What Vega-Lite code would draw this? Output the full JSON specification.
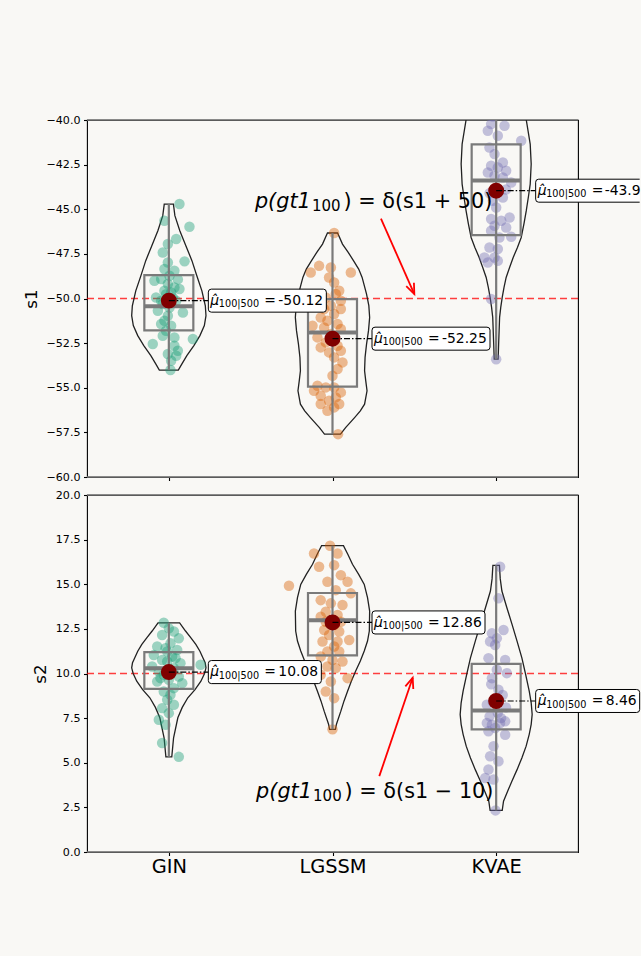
{
"$schema": "https://vega.github.io/schema/vega-lite/v6.json",
"background": "#f9f8f5",
"padding": {"left": 22, "top": 113, "right": 1, "bottom": 83},
"spacing": 5,
"config": {
 "view": {"stroke": "black", "strokeWidth": 1.1},
 "axis": {"grid": false, "domain": false, "labelFont": "DejaVu Sans", "titleFont": "DejaVu Sans", "labelColor": "black", "titleColor": "black", "tickColor": "black", "tickWidth": 1.1, "tickSize": 3.5, "labelPadding": 3.5, "titleFontWeight": "normal"},
 "text": {"font": "DejaVu Sans", "color": "black"}
},
"datasets": {
 "annot": [
  {"p": "s1", "ref": -50, "top": -40, "bot": -60, "tx": 0.526, "ty": -44.93, "eq": ") = δ(s1 + 50)", "ax": 1.296, "ay": -45.53, "hx": 1.5, "hy": -49.75},
  {"p": "s2", "ref": 10, "top": 20, "bot": 0, "tx": 0.533, "ty": 3.03, "eq": ") = δ(s1 − 10)", "ax": 1.286, "ay": 4.25, "hx": 1.49, "hy": 9.76}
 ],
 "stats": [
  {"p": "s1", "m": "GIN", "idx": 0, "q1": -51.79, "med": -50.44, "q3": -48.69, "mn": -54.01, "mx": -44.71, "mean": -50.12, "label": "-50.12"},
  {"p": "s1", "m": "LGSSM", "idx": 1, "q1": -54.94, "med": -51.90, "q3": -50.03, "mn": -57.60, "mx": -46.33, "mean": -52.25, "label": "-52.25"},
  {"p": "s1", "m": "KVAE", "idx": 2, "q1": -46.45, "med": -43.39, "q3": -41.37, "mn": -53.40, "mx": -38.58, "mean": -43.96, "label": "-43.96"},
  {"p": "s2", "m": "GIN", "idx": 0, "q1": 9.14, "med": 10.30, "q3": 11.20, "mn": 5.33, "mx": 12.84, "mean": 10.08, "label": "10.08"},
  {"p": "s2", "m": "LGSSM", "idx": 1, "q1": 11.01, "med": 12.98, "q3": 14.51, "mn": 6.87, "mx": 17.16, "mean": 12.86, "label": "12.86"},
  {"p": "s2", "m": "KVAE", "idx": 2, "q1": 6.87, "med": 7.93, "q3": 10.54, "mn": 2.33, "mx": 16.06, "mean": 8.46, "label": "8.46"}
 ],
 "violin": [
  {"p":"s1","m":"GIN","y":-54.01,"lo":-0.058,"hi":0.058},{"p":"s1","m":"GIN","y":-53.66,"lo":-0.080,"hi":0.080},{"p":"s1","m":"GIN","y":-53.20,"lo":-0.110,"hi":0.110},{"p":"s1","m":"GIN","y":-52.64,"lo":-0.153,"hi":0.153},{"p":"s1","m":"GIN","y":-52.08,"lo":-0.190,"hi":0.190},{"p":"s1","m":"GIN","y":-51.52,"lo":-0.217,"hi":0.217},{"p":"s1","m":"GIN","y":-50.96,"lo":-0.227,"hi":0.227},{"p":"s1","m":"GIN","y":-50.41,"lo":-0.223,"hi":0.223},{"p":"s1","m":"GIN","y":-49.57,"lo":-0.202,"hi":0.202},{"p":"s1","m":"GIN","y":-48.73,"lo":-0.171,"hi":0.171},{"p":"s1","m":"GIN","y":-47.88,"lo":-0.141,"hi":0.141},{"p":"s1","m":"GIN","y":-47.04,"lo":-0.104,"hi":0.104},{"p":"s1","m":"GIN","y":-46.20,"lo":-0.067,"hi":0.067},{"p":"s1","m":"GIN","y":-45.36,"lo":-0.037,"hi":0.037},{"p":"s1","m":"GIN","y":-44.71,"lo":-0.028,"hi":0.028},
  {"p":"s1","m":"LGSSM","y":-57.60,"lo":0.951,"hi":1.049},{"p":"s1","m":"LGSSM","y":-57.23,"lo":0.920,"hi":1.080},{"p":"s1","m":"LGSSM","y":-56.67,"lo":0.865,"hi":1.135},{"p":"s1","m":"LGSSM","y":-56.30,"lo":0.830,"hi":1.170},{"p":"s1","m":"LGSSM","y":-55.92,"lo":0.804,"hi":1.196},{"p":"s1","m":"LGSSM","y":-55.17,"lo":0.789,"hi":1.211},{"p":"s1","m":"LGSSM","y":-54.60,"lo":0.797,"hi":1.203},{"p":"s1","m":"LGSSM","y":-54.05,"lo":0.804,"hi":1.196},{"p":"s1","m":"LGSSM","y":-53.30,"lo":0.801,"hi":1.199},{"p":"s1","m":"LGSSM","y":-52.56,"lo":0.792,"hi":1.208},{"p":"s1","m":"LGSSM","y":-51.80,"lo":0.780,"hi":1.220},{"p":"s1","m":"LGSSM","y":-51.06,"lo":0.773,"hi":1.227},{"p":"s1","m":"LGSSM","y":-50.40,"lo":0.778,"hi":1.222},{"p":"s1","m":"LGSSM","y":-49.75,"lo":0.792,"hi":1.208},{"p":"s1","m":"LGSSM","y":-48.82,"lo":0.819,"hi":1.181},{"p":"s1","m":"LGSSM","y":-48.35,"lo":0.840,"hi":1.160},{"p":"s1","m":"LGSSM","y":-47.89,"lo":0.871,"hi":1.129},{"p":"s1","m":"LGSSM","y":-47.40,"lo":0.905,"hi":1.095},{"p":"s1","m":"LGSSM","y":-46.95,"lo":0.939,"hi":1.061},{"p":"s1","m":"LGSSM","y":-46.33,"lo":0.969,"hi":1.031},
  {"p":"s1","m":"KVAE","y":-53.40,"lo":1.988,"hi":2.012},{"p":"s1","m":"KVAE","y":-52.56,"lo":1.985,"hi":2.015},{"p":"s1","m":"KVAE","y":-51.06,"lo":1.979,"hi":2.021},{"p":"s1","m":"KVAE","y":-50.50,"lo":1.972,"hi":2.028},{"p":"s1","m":"KVAE","y":-49.94,"lo":1.963,"hi":2.037},{"p":"s1","m":"KVAE","y":-49.38,"lo":1.952,"hi":2.048},{"p":"s1","m":"KVAE","y":-48.82,"lo":1.939,"hi":2.061},{"p":"s1","m":"KVAE","y":-48.26,"lo":1.918,"hi":2.082},{"p":"s1","m":"KVAE","y":-47.70,"lo":1.896,"hi":2.104},{"p":"s1","m":"KVAE","y":-47.14,"lo":1.870,"hi":2.130},{"p":"s1","m":"KVAE","y":-46.58,"lo":1.847,"hi":2.153},{"p":"s1","m":"KVAE","y":-45.80,"lo":1.830,"hi":2.170},{"p":"s1","m":"KVAE","y":-45.08,"lo":1.816,"hi":2.184},{"p":"s1","m":"KVAE","y":-44.30,"lo":1.803,"hi":2.197},{"p":"s1","m":"KVAE","y":-43.59,"lo":1.792,"hi":2.208},{"p":"s1","m":"KVAE","y":-42.47,"lo":1.786,"hi":2.214},{"p":"s1","m":"KVAE","y":-41.35,"lo":1.792,"hi":2.208},{"p":"s1","m":"KVAE","y":-40.00,"lo":1.816,"hi":2.184},{"p":"s1","m":"KVAE","y":-39.46,"lo":1.835,"hi":2.165},{"p":"s1","m":"KVAE","y":-38.92,"lo":1.878,"hi":2.122},{"p":"s1","m":"KVAE","y":-38.58,"lo":1.951,"hi":2.049},
  {"p":"s2","m":"GIN","y":5.33,"lo":-0.018,"hi":0.018},{"p":"s2","m":"GIN","y":6.40,"lo":-0.029,"hi":0.029},{"p":"s2","m":"GIN","y":7.52,"lo":-0.055,"hi":0.055},{"p":"s2","m":"GIN","y":8.10,"lo":-0.082,"hi":0.082},{"p":"s2","m":"GIN","y":8.64,"lo":-0.116,"hi":0.116},{"p":"s2","m":"GIN","y":9.10,"lo":-0.160,"hi":0.160},{"p":"s2","m":"GIN","y":9.57,"lo":-0.196,"hi":0.196},{"p":"s2","m":"GIN","y":10.00,"lo":-0.218,"hi":0.218},{"p":"s2","m":"GIN","y":10.32,"lo":-0.227,"hi":0.227},{"p":"s2","m":"GIN","y":10.60,"lo":-0.222,"hi":0.222},{"p":"s2","m":"GIN","y":10.88,"lo":-0.208,"hi":0.208},{"p":"s2","m":"GIN","y":11.25,"lo":-0.190,"hi":0.190},{"p":"s2","m":"GIN","y":11.63,"lo":-0.165,"hi":0.165},{"p":"s2","m":"GIN","y":12.00,"lo":-0.135,"hi":0.135},{"p":"s2","m":"GIN","y":12.38,"lo":-0.102,"hi":0.102},{"p":"s2","m":"GIN","y":12.84,"lo":-0.066,"hi":0.066},
  {"p":"s2","m":"LGSSM","y":6.87,"lo":0.982,"hi":1.018},{"p":"s2","m":"LGSSM","y":7.16,"lo":0.976,"hi":1.024},{"p":"s2","m":"LGSSM","y":7.89,"lo":0.949,"hi":1.051},{"p":"s2","m":"LGSSM","y":8.45,"lo":0.930,"hi":1.070},{"p":"s2","m":"LGSSM","y":9.01,"lo":0.908,"hi":1.092},{"p":"s2","m":"LGSSM","y":9.57,"lo":0.885,"hi":1.115},{"p":"s2","m":"LGSSM","y":10.13,"lo":0.859,"hi":1.141},{"p":"s2","m":"LGSSM","y":10.70,"lo":0.830,"hi":1.170},{"p":"s2","m":"LGSSM","y":11.26,"lo":0.806,"hi":1.194},{"p":"s2","m":"LGSSM","y":11.82,"lo":0.786,"hi":1.214},{"p":"s2","m":"LGSSM","y":12.38,"lo":0.775,"hi":1.225},{"p":"s2","m":"LGSSM","y":13.50,"lo":0.773,"hi":1.227},{"p":"s2","m":"LGSSM","y":14.25,"lo":0.786,"hi":1.214},{"p":"s2","m":"LGSSM","y":14.99,"lo":0.806,"hi":1.194},{"p":"s2","m":"LGSSM","y":15.55,"lo":0.840,"hi":1.160},{"p":"s2","m":"LGSSM","y":16.12,"lo":0.878,"hi":1.122},{"p":"s2","m":"LGSSM","y":16.65,"lo":0.905,"hi":1.095},{"p":"s2","m":"LGSSM","y":17.16,"lo":0.933,"hi":1.067},
  {"p":"s2","m":"KVAE","y":2.33,"lo":1.963,"hi":2.037},{"p":"s2","m":"KVAE","y":2.85,"lo":1.955,"hi":2.045},{"p":"s2","m":"KVAE","y":3.40,"lo":1.930,"hi":2.070},{"p":"s2","m":"KVAE","y":3.97,"lo":1.904,"hi":2.096},{"p":"s2","m":"KVAE","y":4.60,"lo":1.873,"hi":2.127},{"p":"s2","m":"KVAE","y":5.27,"lo":1.843,"hi":2.157},{"p":"s2","m":"KVAE","y":5.93,"lo":1.817,"hi":2.183},{"p":"s2","m":"KVAE","y":6.59,"lo":1.798,"hi":2.202},{"p":"s2","m":"KVAE","y":7.15,"lo":1.786,"hi":2.214},{"p":"s2","m":"KVAE","y":7.71,"lo":1.780,"hi":2.220},{"p":"s2","m":"KVAE","y":8.36,"lo":1.786,"hi":2.214},{"p":"s2","m":"KVAE","y":9.01,"lo":1.798,"hi":2.202},{"p":"s2","m":"KVAE","y":9.95,"lo":1.820,"hi":2.180},{"p":"s2","m":"KVAE","y":10.88,"lo":1.843,"hi":2.157},{"p":"s2","m":"KVAE","y":11.80,"lo":1.872,"hi":2.128},{"p":"s2","m":"KVAE","y":12.75,"lo":1.903,"hi":2.097},{"p":"s2","m":"KVAE","y":13.70,"lo":1.935,"hi":2.065},{"p":"s2","m":"KVAE","y":14.62,"lo":1.965,"hi":2.035},{"p":"s2","m":"KVAE","y":15.30,"lo":1.975,"hi":2.025},{"p":"s2","m":"KVAE","y":16.06,"lo":1.980,"hi":2.020}
 ],
 "pts": [
  {"p":"s1","m":"GIN","x":0.065,"y":-44.71},{"p":"s1","m":"GIN","x":-0.027,"y":-45.64},{"p":"s1","m":"GIN","x":0.126,"y":-45.98},{"p":"s1","m":"GIN","x":0.045,"y":-46.67},{"p":"s1","m":"GIN","x":-0.006,"y":-46.95},{"p":"s1","m":"GIN","x":-0.037,"y":-47.42},{"p":"s1","m":"GIN","x":0.096,"y":-47.92},{"p":"s1","m":"GIN","x":-0.006,"y":-47.98},{"p":"s1","m":"GIN","x":-0.027,"y":-48.35},{"p":"s1","m":"GIN","x":0.034,"y":-48.45},{"p":"s1","m":"GIN","x":0.004,"y":-48.73},{"p":"s1","m":"GIN","x":-0.047,"y":-48.91},{"p":"s1","m":"GIN","x":0.055,"y":-48.93},{"p":"s1","m":"GIN","x":-0.088,"y":-49.01},{"p":"s1","m":"GIN","x":-0.006,"y":-49.19},{"p":"s1","m":"GIN","x":0.034,"y":-49.38},{"p":"s1","m":"GIN","x":0.065,"y":-49.47},{"p":"s1","m":"GIN","x":-0.027,"y":-49.57},{"p":"s1","m":"GIN","x":0.014,"y":-49.66},{"p":"s1","m":"GIN","x":-0.078,"y":-49.94},{"p":"s1","m":"GIN","x":0.045,"y":-50.13},{"p":"s1","m":"GIN","x":-0.037,"y":-50.31},{"p":"s1","m":"GIN","x":0.086,"y":-50.78},{"p":"s1","m":"GIN","x":0.004,"y":-50.50},{"p":"s1","m":"GIN","x":-0.067,"y":-50.69},{"p":"s1","m":"GIN","x":-0.006,"y":-50.97},{"p":"s1","m":"GIN","x":-0.027,"y":-51.25},{"p":"s1","m":"GIN","x":-0.047,"y":-51.43},{"p":"s1","m":"GIN","x":0.014,"y":-51.53},{"p":"s1","m":"GIN","x":-0.017,"y":-51.81},{"p":"s1","m":"GIN","x":-0.037,"y":-52.09},{"p":"s1","m":"GIN","x":0.034,"y":-52.18},{"p":"s1","m":"GIN","x":0.147,"y":-52.27},{"p":"s1","m":"GIN","x":-0.098,"y":-52.55},{"p":"s1","m":"GIN","x":0.034,"y":-52.65},{"p":"s1","m":"GIN","x":0.055,"y":-52.93},{"p":"s1","m":"GIN","x":-0.006,"y":-53.11},{"p":"s1","m":"GIN","x":0.045,"y":-53.21},{"p":"s1","m":"GIN","x":0.014,"y":-53.49},{"p":"s1","m":"GIN","x":0.010,"y":-54.01},{"p":"s1","m":"GIN","x":-0.047,"y":-50.13},{"p":"s1","m":"GIN","x":0.024,"y":-49.94},{"p":"s1","m":"GIN","x":-0.017,"y":-49.76},
  {"p":"s1","m":"LGSSM","x":1.010,"y":-46.33},{"p":"s1","m":"LGSSM","x":0.918,"y":-48.17},{"p":"s1","m":"LGSSM","x":0.990,"y":-48.26},{"p":"s1","m":"LGSSM","x":1.112,"y":-48.54},{"p":"s1","m":"LGSSM","x":0.867,"y":-48.54},{"p":"s1","m":"LGSSM","x":0.979,"y":-48.82},{"p":"s1","m":"LGSSM","x":1.010,"y":-49.10},{"p":"s1","m":"LGSSM","x":1.041,"y":-49.57},{"p":"s1","m":"LGSSM","x":1.020,"y":-49.75},{"p":"s1","m":"LGSSM","x":0.959,"y":-49.94},{"p":"s1","m":"LGSSM","x":1.051,"y":-50.13},{"p":"s1","m":"LGSSM","x":0.990,"y":-50.41},{"p":"s1","m":"LGSSM","x":1.051,"y":-50.59},{"p":"s1","m":"LGSSM","x":0.949,"y":-50.59},{"p":"s1","m":"LGSSM","x":1.010,"y":-50.87},{"p":"s1","m":"LGSSM","x":0.928,"y":-51.06},{"p":"s1","m":"LGSSM","x":0.969,"y":-51.25},{"p":"s1","m":"LGSSM","x":1.031,"y":-51.43},{"p":"s1","m":"LGSSM","x":0.878,"y":-51.53},{"p":"s1","m":"LGSSM","x":0.949,"y":-51.62},{"p":"s1","m":"LGSSM","x":1.051,"y":-51.71},{"p":"s1","m":"LGSSM","x":0.990,"y":-51.99},{"p":"s1","m":"LGSSM","x":0.908,"y":-52.18},{"p":"s1","m":"LGSSM","x":1.010,"y":-52.18},{"p":"s1","m":"LGSSM","x":0.959,"y":-52.46},{"p":"s1","m":"LGSSM","x":1.031,"y":-52.65},{"p":"s1","m":"LGSSM","x":0.928,"y":-52.74},{"p":"s1","m":"LGSSM","x":1.051,"y":-52.93},{"p":"s1","m":"LGSSM","x":0.979,"y":-53.02},{"p":"s1","m":"LGSSM","x":1.010,"y":-53.30},{"p":"s1","m":"LGSSM","x":1.061,"y":-53.58},{"p":"s1","m":"LGSSM","x":1.031,"y":-53.95},{"p":"s1","m":"LGSSM","x":1.000,"y":-54.33},{"p":"s1","m":"LGSSM","x":0.908,"y":-54.89},{"p":"s1","m":"LGSSM","x":0.959,"y":-54.98},{"p":"s1","m":"LGSSM","x":1.010,"y":-54.98},{"p":"s1","m":"LGSSM","x":0.887,"y":-55.17},{"p":"s1","m":"LGSSM","x":1.051,"y":-55.26},{"p":"s1","m":"LGSSM","x":0.928,"y":-55.45},{"p":"s1","m":"LGSSM","x":1.020,"y":-55.54},{"p":"s1","m":"LGSSM","x":0.979,"y":-55.73},{"p":"s1","m":"LGSSM","x":1.041,"y":-55.91},{"p":"s1","m":"LGSSM","x":0.928,"y":-55.91},{"p":"s1","m":"LGSSM","x":1.010,"y":-56.10},{"p":"s1","m":"LGSSM","x":0.969,"y":-56.29},{"p":"s1","m":"LGSSM","x":1.034,"y":-57.60},
  {"p":"s1","m":"KVAE","x":1.969,"y":-40.23},{"p":"s1","m":"KVAE","x":2.051,"y":-40.32},{"p":"s1","m":"KVAE","x":1.949,"y":-40.60},{"p":"s1","m":"KVAE","x":2.010,"y":-40.88},{"p":"s1","m":"KVAE","x":2.153,"y":-41.16},{"p":"s1","m":"KVAE","x":1.959,"y":-41.54},{"p":"s1","m":"KVAE","x":1.990,"y":-41.91},{"p":"s1","m":"KVAE","x":2.041,"y":-42.38},{"p":"s1","m":"KVAE","x":1.969,"y":-42.56},{"p":"s1","m":"KVAE","x":2.010,"y":-42.66},{"p":"s1","m":"KVAE","x":2.061,"y":-42.84},{"p":"s1","m":"KVAE","x":1.949,"y":-42.94},{"p":"s1","m":"KVAE","x":1.990,"y":-43.12},{"p":"s1","m":"KVAE","x":2.041,"y":-43.22},{"p":"s1","m":"KVAE","x":2.092,"y":-43.50},{"p":"s1","m":"KVAE","x":2.041,"y":-44.34},{"p":"s1","m":"KVAE","x":1.980,"y":-44.52},{"p":"s1","m":"KVAE","x":2.000,"y":-44.90},{"p":"s1","m":"KVAE","x":2.082,"y":-45.46},{"p":"s1","m":"KVAE","x":1.969,"y":-45.55},{"p":"s1","m":"KVAE","x":2.031,"y":-45.64},{"p":"s1","m":"KVAE","x":1.990,"y":-45.92},{"p":"s1","m":"KVAE","x":2.061,"y":-46.02},{"p":"s1","m":"KVAE","x":1.969,"y":-46.20},{"p":"s1","m":"KVAE","x":2.092,"y":-46.54},{"p":"s1","m":"KVAE","x":2.020,"y":-46.58},{"p":"s1","m":"KVAE","x":1.959,"y":-47.14},{"p":"s1","m":"KVAE","x":2.010,"y":-47.23},{"p":"s1","m":"KVAE","x":1.928,"y":-47.70},{"p":"s1","m":"KVAE","x":1.990,"y":-47.70},{"p":"s1","m":"KVAE","x":1.949,"y":-47.98},{"p":"s1","m":"KVAE","x":2.010,"y":-47.89},{"p":"s1","m":"KVAE","x":1.969,"y":-50.03},{"p":"s1","m":"KVAE","x":2.000,"y":-53.40},{"p":"s1","m":"KVAE","x":1.980,"y":-39.80},{"p":"s1","m":"KVAE","x":2.040,"y":-39.50},{"p":"s1","m":"KVAE","x":1.940,"y":-39.20},{"p":"s1","m":"KVAE","x":2.030,"y":-38.90},{"p":"s1","m":"KVAE","x":2.000,"y":-38.58},{"p":"s1","m":"KVAE","x":2.060,"y":-43.90},{"p":"s1","m":"KVAE","x":1.960,"y":-44.10},
  {"p":"s2","m":"GIN","x":-0.031,"y":12.84},{"p":"s2","m":"GIN","x":0.000,"y":12.53},{"p":"s2","m":"GIN","x":0.031,"y":12.35},{"p":"s2","m":"GIN","x":-0.041,"y":12.16},{"p":"s2","m":"GIN","x":0.061,"y":11.97},{"p":"s2","m":"GIN","x":0.010,"y":11.69},{"p":"s2","m":"GIN","x":-0.071,"y":11.51},{"p":"s2","m":"GIN","x":-0.020,"y":11.41},{"p":"s2","m":"GIN","x":0.051,"y":11.32},{"p":"s2","m":"GIN","x":-0.010,"y":11.23},{"p":"s2","m":"GIN","x":-0.092,"y":11.04},{"p":"s2","m":"GIN","x":0.020,"y":10.95},{"p":"s2","m":"GIN","x":0.041,"y":10.86},{"p":"s2","m":"GIN","x":-0.041,"y":10.76},{"p":"s2","m":"GIN","x":-0.010,"y":10.67},{"p":"s2","m":"GIN","x":0.071,"y":10.58},{"p":"s2","m":"GIN","x":0.194,"y":10.49},{"p":"s2","m":"GIN","x":-0.102,"y":10.39},{"p":"s2","m":"GIN","x":0.031,"y":10.30},{"p":"s2","m":"GIN","x":-0.061,"y":10.11},{"p":"s2","m":"GIN","x":-0.031,"y":9.93},{"p":"s2","m":"GIN","x":0.061,"y":9.83},{"p":"s2","m":"GIN","x":-0.051,"y":9.74},{"p":"s2","m":"GIN","x":0.000,"y":9.65},{"p":"s2","m":"GIN","x":-0.071,"y":9.55},{"p":"s2","m":"GIN","x":0.082,"y":9.46},{"p":"s2","m":"GIN","x":0.031,"y":9.18},{"p":"s2","m":"GIN","x":-0.031,"y":8.99},{"p":"s2","m":"GIN","x":0.010,"y":8.81},{"p":"s2","m":"GIN","x":-0.010,"y":8.53},{"p":"s2","m":"GIN","x":0.031,"y":8.25},{"p":"s2","m":"GIN","x":-0.041,"y":8.06},{"p":"s2","m":"GIN","x":0.000,"y":7.78},{"p":"s2","m":"GIN","x":-0.061,"y":7.41},{"p":"s2","m":"GIN","x":-0.020,"y":7.13},{"p":"s2","m":"GIN","x":-0.041,"y":6.11},{"p":"s2","m":"GIN","x":0.061,"y":5.33},
  {"p":"s2","m":"LGSSM","x":0.985,"y":17.16},{"p":"s2","m":"LGSSM","x":0.887,"y":16.72},{"p":"s2","m":"LGSSM","x":1.031,"y":16.72},{"p":"s2","m":"LGSSM","x":0.918,"y":15.98},{"p":"s2","m":"LGSSM","x":1.010,"y":16.07},{"p":"s2","m":"LGSSM","x":0.734,"y":14.92},{"p":"s2","m":"LGSSM","x":1.051,"y":15.51},{"p":"s2","m":"LGSSM","x":0.969,"y":15.14},{"p":"s2","m":"LGSSM","x":1.092,"y":15.14},{"p":"s2","m":"LGSSM","x":1.020,"y":14.67},{"p":"s2","m":"LGSSM","x":1.112,"y":14.49},{"p":"s2","m":"LGSSM","x":0.928,"y":14.11},{"p":"s2","m":"LGSSM","x":0.990,"y":13.93},{"p":"s2","m":"LGSSM","x":1.061,"y":13.84},{"p":"s2","m":"LGSSM","x":0.959,"y":13.46},{"p":"s2","m":"LGSSM","x":1.031,"y":13.28},{"p":"s2","m":"LGSSM","x":0.928,"y":13.18},{"p":"s2","m":"LGSSM","x":1.051,"y":12.90},{"p":"s2","m":"LGSSM","x":0.959,"y":12.90},{"p":"s2","m":"LGSSM","x":1.010,"y":12.72},{"p":"s2","m":"LGSSM","x":0.949,"y":12.44},{"p":"s2","m":"LGSSM","x":1.041,"y":12.35},{"p":"s2","m":"LGSSM","x":0.979,"y":12.16},{"p":"s2","m":"LGSSM","x":1.102,"y":11.88},{"p":"s2","m":"LGSSM","x":0.939,"y":11.79},{"p":"s2","m":"LGSSM","x":1.031,"y":11.79},{"p":"s2","m":"LGSSM","x":1.010,"y":11.51},{"p":"s2","m":"LGSSM","x":0.969,"y":11.23},{"p":"s2","m":"LGSSM","x":1.041,"y":11.23},{"p":"s2","m":"LGSSM","x":0.928,"y":10.95},{"p":"s2","m":"LGSSM","x":1.000,"y":10.76},{"p":"s2","m":"LGSSM","x":1.061,"y":10.67},{"p":"s2","m":"LGSSM","x":0.969,"y":10.39},{"p":"s2","m":"LGSSM","x":1.020,"y":10.30},{"p":"s2","m":"LGSSM","x":0.928,"y":9.93},{"p":"s2","m":"LGSSM","x":1.092,"y":9.74},{"p":"s2","m":"LGSSM","x":0.990,"y":9.55},{"p":"s2","m":"LGSSM","x":0.959,"y":8.99},{"p":"s2","m":"LGSSM","x":1.010,"y":8.62},{"p":"s2","m":"LGSSM","x":1.000,"y":6.87},
  {"p":"s2","m":"KVAE","x":2.024,"y":15.98},{"p":"s2","m":"KVAE","x":2.014,"y":14.21},{"p":"s2","m":"KVAE","x":2.045,"y":12.44},{"p":"s2","m":"KVAE","x":1.974,"y":12.25},{"p":"s2","m":"KVAE","x":2.004,"y":11.97},{"p":"s2","m":"KVAE","x":1.963,"y":11.79},{"p":"s2","m":"KVAE","x":1.994,"y":11.60},{"p":"s2","m":"KVAE","x":1.953,"y":10.86},{"p":"s2","m":"KVAE","x":2.055,"y":10.76},{"p":"s2","m":"KVAE","x":2.004,"y":10.21},{"p":"s2","m":"KVAE","x":2.065,"y":10.02},{"p":"s2","m":"KVAE","x":1.974,"y":9.74},{"p":"s2","m":"KVAE","x":1.970,"y":9.40},{"p":"s2","m":"KVAE","x":2.014,"y":9.09},{"p":"s2","m":"KVAE","x":2.040,"y":8.80},{"p":"s2","m":"KVAE","x":1.980,"y":8.40},{"p":"s2","m":"KVAE","x":1.943,"y":8.25},{"p":"s2","m":"KVAE","x":2.060,"y":8.10},{"p":"s2","m":"KVAE","x":2.010,"y":7.80},{"p":"s2","m":"KVAE","x":1.960,"y":7.60},{"p":"s2","m":"KVAE","x":2.030,"y":7.50},{"p":"s2","m":"KVAE","x":2.055,"y":7.32},{"p":"s2","m":"KVAE","x":1.943,"y":7.23},{"p":"s2","m":"KVAE","x":2.024,"y":7.23},{"p":"s2","m":"KVAE","x":1.974,"y":7.13},{"p":"s2","m":"KVAE","x":1.994,"y":6.95},{"p":"s2","m":"KVAE","x":1.953,"y":6.76},{"p":"s2","m":"KVAE","x":2.055,"y":6.57},{"p":"s2","m":"KVAE","x":1.984,"y":5.92},{"p":"s2","m":"KVAE","x":1.963,"y":5.36},{"p":"s2","m":"KVAE","x":2.014,"y":5.08},{"p":"s2","m":"KVAE","x":1.953,"y":4.62},{"p":"s2","m":"KVAE","x":1.933,"y":4.15},{"p":"s2","m":"KVAE","x":1.984,"y":4.06},{"p":"s2","m":"KVAE","x":1.996,"y":2.33}
 ]
},
"vconcat": [
 {
  "width": 491, "height": 357,
  "layer": [
   {"data": {"name": "annot"}, "transform": [{"filter": "datum.p === 's1'"}],
    "mark": {"type": "rule", "color": "#7a7a7a", "strokeWidth": 1.5},
    "encoding": {"y": {"field": "top", "type": "quantitative", "scale": {"type": "linear", "domain": [-60, -40], "nice": false, "zero": false}}}},
   {"data": {"name": "annot"}, "transform": [{"filter": "datum.p === 's1'"}],
    "mark": {"type": "rule", "color": "#7a7a7a", "strokeWidth": 1.5},
    "encoding": {"y": {"field": "bot", "type": "quantitative", "scale": {"type": "linear", "domain": [-60, -40], "nice": false, "zero": false}}}},
   {"data": {"name": "annot"}, "transform": [{"filter": "datum.p === 's1'"}],
    "mark": {"type": "rule", "color": "red", "opacity": 0.75, "strokeDash": [7, 4], "strokeWidth": 1.5},
    "encoding": {"y": {"field": "ref", "type": "quantitative", "scale": {"type": "linear", "domain": [-60, -40], "nice": false, "zero": false}}}},
   {"data": {"name": "violin"}, "transform": [{"filter": "datum.p === 's1'"}],
    "mark": {"type": "area", "orient": "horizontal", "fillOpacity": 0, "stroke": "#222222", "strokeWidth": 1.3, "clip": true},
    "encoding": {
     "y": {"field": "y", "type": "quantitative", "scale": {"type": "linear", "domain": [-60, -40], "nice": false, "zero": false}},
     "x": {"field": "lo", "type": "quantitative", "scale": {"type": "linear", "domain": [-0.5, 2.5], "nice": false, "zero": false}},
     "x2": {"field": "hi"},
     "detail": {"field": "m", "type": "nominal"}}},
   {"data": {"name": "pts"}, "transform": [{"filter": "datum.p === 's1'"}],
    "mark": {"type": "circle", "size": 110, "opacity": 0.42, "clip": true},
    "encoding": {
     "x": {"field": "x", "type": "quantitative", "scale": {"type": "linear", "domain": [-0.5, 2.5], "nice": false, "zero": false}, "axis": {"title": null, "values": [0, 1, 2], "labels": false}},
     "y": {"field": "y", "type": "quantitative", "scale": {"type": "linear", "domain": [-60, -40], "nice": false, "zero": false}, "axis": {"title": "s1", "titleFontSize": 16.7, "titlePadding": 6, "values": [-60, -57.5, -55, -52.5, -50, -47.5, -45, -42.5, -40], "format": ".1f", "labelFontSize": 11.1}},
     "color": {"field": "m", "type": "nominal", "scale": {"domain": ["GIN", "LGSSM", "KVAE"], "range": ["#1b9e77", "#d95f02", "#7570b3"]}, "legend": null}}},
   {"data": {"name": "stats"}, "transform": [{"filter": "datum.p === 's1'"}],
    "mark": {"type": "rule", "color": "#7a7a7a", "strokeWidth": 2.2, "clip": true},
    "encoding": {
     "x": {"field": "idx", "type": "quantitative", "scale": {"type": "linear", "domain": [-0.5, 2.5], "nice": false, "zero": false}},
     "y": {"field": "mn", "type": "quantitative", "scale": {"type": "linear", "domain": [-60, -40], "nice": false, "zero": false}},
     "y2": {"field": "mx"}}},
   {"data": {"name": "stats"}, "transform": [{"filter": "datum.p === 's1'"}],
    "mark": {"type": "rect", "fillOpacity": 0, "stroke": "#7a7a7a", "strokeWidth": 2.2, "xOffset": -24.5, "x2Offset": 24.5},
    "encoding": {
     "x": {"field": "idx", "type": "quantitative", "scale": {"type": "linear", "domain": [-0.5, 2.5], "nice": false, "zero": false}},
     "x2": {"field": "idx"},
     "y": {"field": "q3", "type": "quantitative", "scale": {"type": "linear", "domain": [-60, -40], "nice": false, "zero": false}},
     "y2": {"field": "q1"}}},
   {"data": {"name": "stats"}, "transform": [{"filter": "datum.p === 's1'"}],
    "mark": {"type": "rule", "color": "#7a7a7a", "strokeWidth": 4, "xOffset": -24.5, "x2Offset": 24.5},
    "encoding": {
     "x": {"field": "idx", "type": "quantitative", "scale": {"type": "linear", "domain": [-0.5, 2.5], "nice": false, "zero": false}},
     "x2": {"field": "idx"},
     "y": {"field": "med", "type": "quantitative", "scale": {"type": "linear", "domain": [-60, -40], "nice": false, "zero": false}}}},
   {"data": {"name": "stats"}, "transform": [{"filter": "datum.p === 's1'"}],
    "mark": {"type": "circle", "size": 254, "color": "#800000", "opacity": 1},
    "encoding": {
     "x": {"field": "idx", "type": "quantitative", "scale": {"type": "linear", "domain": [-0.5, 2.5], "nice": false, "zero": false}},
     "y": {"field": "mean", "type": "quantitative", "scale": {"type": "linear", "domain": [-60, -40], "nice": false, "zero": false}}}},
   {"data": {"name": "stats"}, "transform": [{"filter": "datum.p === 's1'"}],
    "mark": {"type": "rule", "color": "black", "strokeWidth": 1.2, "strokeDash": [6, 2, 1.5, 2], "x2Offset": 39.5},
    "encoding": {
     "x": {"field": "idx", "type": "quantitative", "scale": {"type": "linear", "domain": [-0.5, 2.5], "nice": false, "zero": false}},
     "x2": {"field": "idx"},
     "y": {"field": "mean", "type": "quantitative", "scale": {"type": "linear", "domain": [-60, -40], "nice": false, "zero": false}}}},
   {"data": {"name": "stats"}, "transform": [{"filter": "datum.p === 's1' && datum.m !== 'KVAE'"}],
    "mark": {"type": "point", "shape": "M-0.949,-0.195L0.949,-0.195Q1,-0.195,1,-0.144L1,0.144Q1,0.195,0.949,0.195L-0.949,0.195Q-1,0.195,-1,0.144L-1,-0.144Q-1,-0.195,-0.949,-0.195Z", "size": 13924, "filled": true, "fill": "white", "fillOpacity": 1, "opacity": 1, "stroke": "black", "strokeWidth": 1, "xOffset": 98.5},
    "encoding": {
     "x": {"field": "idx", "type": "quantitative", "scale": {"type": "linear", "domain": [-0.5, 2.5], "nice": false, "zero": false}},
     "y": {"field": "mean", "type": "quantitative", "scale": {"type": "linear", "domain": [-60, -40], "nice": false, "zero": false}}}},
   {"data": {"name": "stats"}, "transform": [{"filter": "datum.p === 's1' && datum.m === 'KVAE'"}],
    "mark": {"type": "point", "shape": "M1,-0.221L-0.942,-0.221Q-1,-0.221,-1,-0.163L-1,0.163Q-1,0.221,-0.942,0.221L1,0.221", "size": 10816, "filled": true, "fill": "white", "fillOpacity": 1, "opacity": 1, "stroke": "black", "strokeWidth": 1, "xOffset": 91.5},
    "encoding": {
     "x": {"field": "idx", "type": "quantitative", "scale": {"type": "linear", "domain": [-0.5, 2.5], "nice": false, "zero": false}},
     "y": {"field": "mean", "type": "quantitative", "scale": {"type": "linear", "domain": [-60, -40], "nice": false, "zero": false}}}},
   {"data": {"name": "stats"}, "transform": [{"filter": "datum.p === 's1'"}],
    "mark": {"type": "text", "text": "\u03bc\u0302", "fontSize": 13.9, "fontStyle": "italic", "align": "left", "baseline": "alphabetic", "dx": 41.5, "dy": 4.3},
    "encoding": {
     "x": {"field": "idx", "type": "quantitative", "scale": {"type": "linear", "domain": [-0.5, 2.5], "nice": false, "zero": false}},
     "y": {"field": "mean", "type": "quantitative", "scale": {"type": "linear", "domain": [-60, -40], "nice": false, "zero": false}}}},
   {"data": {"name": "stats"}, "transform": [{"filter": "datum.p === 's1'"}],
    "mark": {"type": "text", "text": "100|500", "fontSize": 9.7, "align": "left", "baseline": "alphabetic", "dx": 50, "dy": 6.7},
    "encoding": {
     "x": {"field": "idx", "type": "quantitative", "scale": {"type": "linear", "domain": [-0.5, 2.5], "nice": false, "zero": false}},
     "y": {"field": "mean", "type": "quantitative", "scale": {"type": "linear", "domain": [-60, -40], "nice": false, "zero": false}}}},
   {"data": {"name": "stats"}, "transform": [{"filter": "datum.p === 's1'"}],
    "mark": {"type": "text", "text": "=", "fontSize": 13.9, "align": "left", "baseline": "alphabetic", "dx": 95.5, "dy": 4.3},
    "encoding": {
     "x": {"field": "idx", "type": "quantitative", "scale": {"type": "linear", "domain": [-0.5, 2.5], "nice": false, "zero": false}},
     "y": {"field": "mean", "type": "quantitative", "scale": {"type": "linear", "domain": [-60, -40], "nice": false, "zero": false}}}},
   {"data": {"name": "stats"}, "transform": [{"filter": "datum.p === 's1' && datum.m !== 'KVAE'"}],
    "mark": {"type": "text", "fontSize": 13.9, "align": "left", "baseline": "alphabetic", "dx": 109.5, "dy": 4.3},
    "encoding": {
     "text": {"field": "label", "type": "nominal"},
     "x": {"field": "idx", "type": "quantitative", "scale": {"type": "linear", "domain": [-0.5, 2.5], "nice": false, "zero": false}},
     "y": {"field": "mean", "type": "quantitative", "scale": {"type": "linear", "domain": [-60, -40], "nice": false, "zero": false}}}},
   {"data": {"name": "stats"}, "transform": [{"filter": "datum.p === 's1' && datum.m === 'KVAE'"}],
    "mark": {"type": "text", "fontSize": 13.9, "align": "left", "baseline": "alphabetic", "dx": 108.5, "dy": 4.3, "limit": 37, "ellipsis": "\u200b"},
    "encoding": {
     "text": {"field": "label", "type": "nominal"},
     "x": {"field": "idx", "type": "quantitative", "scale": {"type": "linear", "domain": [-0.5, 2.5], "nice": false, "zero": false}},
     "y": {"field": "mean", "type": "quantitative", "scale": {"type": "linear", "domain": [-60, -40], "nice": false, "zero": false}}}},
   {"data": {"name": "annot"}, "transform": [{"filter": "datum.p === 's1'"}],
    "mark": {"type": "text", "text": "p(gt1", "fontSize": 20.8, "fontStyle": "italic", "align": "left", "baseline": "alphabetic"},
    "encoding": {
     "x": {"field": "tx", "type": "quantitative", "scale": {"type": "linear", "domain": [-0.5, 2.5], "nice": false, "zero": false}},
     "y": {"field": "ty", "type": "quantitative", "scale": {"type": "linear", "domain": [-60, -40], "nice": false, "zero": false}}}},
   {"data": {"name": "annot"}, "transform": [{"filter": "datum.p === 's1'"}],
    "mark": {"type": "text", "text": "100", "fontSize": 15, "align": "left", "baseline": "alphabetic", "dx": 57, "dy": 3},
    "encoding": {
     "x": {"field": "tx", "type": "quantitative", "scale": {"type": "linear", "domain": [-0.5, 2.5], "nice": false, "zero": false}},
     "y": {"field": "ty", "type": "quantitative", "scale": {"type": "linear", "domain": [-60, -40], "nice": false, "zero": false}}}},
   {"data": {"name": "annot"}, "transform": [{"filter": "datum.p === 's1'"}],
    "mark": {"type": "text", "fontSize": 20.8, "align": "left", "baseline": "alphabetic", "dx": 88.5},
    "encoding": {
     "text": {"field": "eq", "type": "nominal"},
     "x": {"field": "tx", "type": "quantitative", "scale": {"type": "linear", "domain": [-0.5, 2.5], "nice": false, "zero": false}},
     "y": {"field": "ty", "type": "quantitative", "scale": {"type": "linear", "domain": [-60, -40], "nice": false, "zero": false}}}},
   {"data": {"name": "annot"}, "transform": [{"filter": "datum.p === 's1'"}],
    "mark": {"type": "rule", "color": "red", "strokeWidth": 1.8},
    "encoding": {
     "x": {"field": "ax", "type": "quantitative", "scale": {"type": "linear", "domain": [-0.5, 2.5], "nice": false, "zero": false}},
     "x2": {"field": "hx"},
     "y": {"field": "ay", "type": "quantitative", "scale": {"type": "linear", "domain": [-60, -40], "nice": false, "zero": false}},
     "y2": {"field": "hy"}}},
   {"data": {"name": "annot"}, "transform": [{"filter": "datum.p === 's1'"}],
    "mark": {"type": "point", "shape": "M-0.4,-1L0,0L0.4,-1", "size": 441, "filled": false, "stroke": "red", "strokeWidth": 1.8, "opacity": 1, "angle": 336.1},
    "encoding": {
     "x": {"field": "hx", "type": "quantitative", "scale": {"type": "linear", "domain": [-0.5, 2.5], "nice": false, "zero": false}},
     "y": {"field": "hy", "type": "quantitative", "scale": {"type": "linear", "domain": [-60, -40], "nice": false, "zero": false}}}}
  ]
 },
 {
  "width": 491, "height": 357,
  "layer": [
   {"data": {"name": "annot"}, "transform": [{"filter": "datum.p === 's2'"}],
    "mark": {"type": "rule", "color": "#7a7a7a", "strokeWidth": 1.5},
    "encoding": {"y": {"field": "top", "type": "quantitative", "scale": {"type": "linear", "domain": [0, 20], "nice": false, "zero": false}}}},
   {"data": {"name": "annot"}, "transform": [{"filter": "datum.p === 's2'"}],
    "mark": {"type": "rule", "color": "#7a7a7a", "strokeWidth": 1.5},
    "encoding": {"y": {"field": "bot", "type": "quantitative", "scale": {"type": "linear", "domain": [0, 20], "nice": false, "zero": false}}}},
   {"data": {"name": "annot"}, "transform": [{"filter": "datum.p === 's2'"}],
    "mark": {"type": "rule", "color": "red", "opacity": 0.75, "strokeDash": [7, 4], "strokeWidth": 1.5},
    "encoding": {"y": {"field": "ref", "type": "quantitative", "scale": {"type": "linear", "domain": [0, 20], "nice": false, "zero": false}}}},
   {"data": {"name": "violin"}, "transform": [{"filter": "datum.p === 's2'"}],
    "mark": {"type": "area", "orient": "horizontal", "fillOpacity": 0, "stroke": "#222222", "strokeWidth": 1.3, "clip": true},
    "encoding": {
     "y": {"field": "y", "type": "quantitative", "scale": {"type": "linear", "domain": [0, 20], "nice": false, "zero": false}},
     "x": {"field": "lo", "type": "quantitative", "scale": {"type": "linear", "domain": [-0.5, 2.5], "nice": false, "zero": false}},
     "x2": {"field": "hi"},
     "detail": {"field": "m", "type": "nominal"}}},
   {"data": {"name": "pts"}, "transform": [{"filter": "datum.p === 's2'"}],
    "mark": {"type": "circle", "size": 110, "opacity": 0.42, "clip": true},
    "encoding": {
     "x": {"field": "x", "type": "quantitative", "scale": {"type": "linear", "domain": [-0.5, 2.5], "nice": false, "zero": false}, "axis": {"title": null, "values": [0, 1, 2], "labelExpr": "['GIN', 'LGSSM', 'KVAE'][datum.value]", "labelFontSize": 19.4, "labelPadding": 2}},
     "y": {"field": "y", "type": "quantitative", "scale": {"type": "linear", "domain": [0, 20], "nice": false, "zero": false}, "axis": {"title": "s2", "titleFontSize": 16.7, "titlePadding": 6, "values": [0, 2.5, 5, 7.5, 10, 12.5, 15, 17.5, 20], "format": ".1f", "labelFontSize": 11.1}},
     "color": {"field": "m", "type": "nominal", "scale": {"domain": ["GIN", "LGSSM", "KVAE"], "range": ["#1b9e77", "#d95f02", "#7570b3"]}, "legend": null}}},
   {"data": {"name": "stats"}, "transform": [{"filter": "datum.p === 's2'"}],
    "mark": {"type": "rule", "color": "#7a7a7a", "strokeWidth": 2.2, "clip": true},
    "encoding": {
     "x": {"field": "idx", "type": "quantitative", "scale": {"type": "linear", "domain": [-0.5, 2.5], "nice": false, "zero": false}},
     "y": {"field": "mn", "type": "quantitative", "scale": {"type": "linear", "domain": [0, 20], "nice": false, "zero": false}},
     "y2": {"field": "mx"}}},
   {"data": {"name": "stats"}, "transform": [{"filter": "datum.p === 's2'"}],
    "mark": {"type": "rect", "fillOpacity": 0, "stroke": "#7a7a7a", "strokeWidth": 2.2, "xOffset": -24.5, "x2Offset": 24.5},
    "encoding": {
     "x": {"field": "idx", "type": "quantitative", "scale": {"type": "linear", "domain": [-0.5, 2.5], "nice": false, "zero": false}},
     "x2": {"field": "idx"},
     "y": {"field": "q3", "type": "quantitative", "scale": {"type": "linear", "domain": [0, 20], "nice": false, "zero": false}},
     "y2": {"field": "q1"}}},
   {"data": {"name": "stats"}, "transform": [{"filter": "datum.p === 's2'"}],
    "mark": {"type": "rule", "color": "#7a7a7a", "strokeWidth": 4, "xOffset": -24.5, "x2Offset": 24.5},
    "encoding": {
     "x": {"field": "idx", "type": "quantitative", "scale": {"type": "linear", "domain": [-0.5, 2.5], "nice": false, "zero": false}},
     "x2": {"field": "idx"},
     "y": {"field": "med", "type": "quantitative", "scale": {"type": "linear", "domain": [0, 20], "nice": false, "zero": false}}}},
   {"data": {"name": "stats"}, "transform": [{"filter": "datum.p === 's2'"}],
    "mark": {"type": "circle", "size": 254, "color": "#800000", "opacity": 1},
    "encoding": {
     "x": {"field": "idx", "type": "quantitative", "scale": {"type": "linear", "domain": [-0.5, 2.5], "nice": false, "zero": false}},
     "y": {"field": "mean", "type": "quantitative", "scale": {"type": "linear", "domain": [0, 20], "nice": false, "zero": false}}}},
   {"data": {"name": "stats"}, "transform": [{"filter": "datum.p === 's2'"}],
    "mark": {"type": "rule", "color": "black", "strokeWidth": 1.2, "strokeDash": [6, 2, 1.5, 2], "x2Offset": 39.5},
    "encoding": {
     "x": {"field": "idx", "type": "quantitative", "scale": {"type": "linear", "domain": [-0.5, 2.5], "nice": false, "zero": false}},
     "x2": {"field": "idx"},
     "y": {"field": "mean", "type": "quantitative", "scale": {"type": "linear", "domain": [0, 20], "nice": false, "zero": false}}}},
   {"data": {"name": "stats"}, "transform": [{"filter": "datum.p === 's2' && datum.m !== 'KVAE'"}],
    "mark": {"type": "point", "shape": "M-0.947,-0.204L0.947,-0.204Q1,-0.204,1,-0.150L1,0.150Q1,0.204,0.947,0.204L-0.947,0.204Q-1,0.204,-1,0.150L-1,-0.150Q-1,-0.204,-0.947,-0.204Z", "size": 12769, "filled": true, "fill": "white", "fillOpacity": 1, "opacity": 1, "stroke": "black", "strokeWidth": 1, "xOffset": 96},
    "encoding": {
     "x": {"field": "idx", "type": "quantitative", "scale": {"type": "linear", "domain": [-0.5, 2.5], "nice": false, "zero": false}},
     "y": {"field": "mean", "type": "quantitative", "scale": {"type": "linear", "domain": [0, 20], "nice": false, "zero": false}}}},
   {"data": {"name": "stats"}, "transform": [{"filter": "datum.p === 's2' && datum.m === 'KVAE'"}],
    "mark": {"type": "point", "shape": "M-0.942,-0.221L0.942,-0.221Q1,-0.221,1,-0.163L1,0.163Q1,0.221,0.942,0.221L-0.942,0.221Q-1,0.221,-1,0.163L-1,-0.163Q-1,-0.221,-0.942,-0.221Z", "size": 10816, "filled": true, "fill": "white", "fillOpacity": 1, "opacity": 1, "stroke": "black", "strokeWidth": 1, "xOffset": 91.5},
    "encoding": {
     "x": {"field": "idx", "type": "quantitative", "scale": {"type": "linear", "domain": [-0.5, 2.5], "nice": false, "zero": false}},
     "y": {"field": "mean", "type": "quantitative", "scale": {"type": "linear", "domain": [0, 20], "nice": false, "zero": false}}}},
   {"data": {"name": "stats"}, "transform": [{"filter": "datum.p === 's2'"}],
    "mark": {"type": "text", "text": "\u03bc\u0302", "fontSize": 13.9, "fontStyle": "italic", "align": "left", "baseline": "alphabetic", "dx": 41.5, "dy": 4.3},
    "encoding": {
     "x": {"field": "idx", "type": "quantitative", "scale": {"type": "linear", "domain": [-0.5, 2.5], "nice": false, "zero": false}},
     "y": {"field": "mean", "type": "quantitative", "scale": {"type": "linear", "domain": [0, 20], "nice": false, "zero": false}}}},
   {"data": {"name": "stats"}, "transform": [{"filter": "datum.p === 's2'"}],
    "mark": {"type": "text", "text": "100|500", "fontSize": 9.7, "align": "left", "baseline": "alphabetic", "dx": 50, "dy": 6.7},
    "encoding": {
     "x": {"field": "idx", "type": "quantitative", "scale": {"type": "linear", "domain": [-0.5, 2.5], "nice": false, "zero": false}},
     "y": {"field": "mean", "type": "quantitative", "scale": {"type": "linear", "domain": [0, 20], "nice": false, "zero": false}}}},
   {"data": {"name": "stats"}, "transform": [{"filter": "datum.p === 's2'"}],
    "mark": {"type": "text", "text": "=", "fontSize": 13.9, "align": "left", "baseline": "alphabetic", "dx": 95.5, "dy": 4.3},
    "encoding": {
     "x": {"field": "idx", "type": "quantitative", "scale": {"type": "linear", "domain": [-0.5, 2.5], "nice": false, "zero": false}},
     "y": {"field": "mean", "type": "quantitative", "scale": {"type": "linear", "domain": [0, 20], "nice": false, "zero": false}}}},
   {"data": {"name": "stats"}, "transform": [{"filter": "datum.p === 's2'"}],
    "mark": {"type": "text", "fontSize": 13.9, "align": "left", "baseline": "alphabetic", "dx": 109.5, "dy": 4.3},
    "encoding": {
     "text": {"field": "label", "type": "nominal"},
     "x": {"field": "idx", "type": "quantitative", "scale": {"type": "linear", "domain": [-0.5, 2.5], "nice": false, "zero": false}},
     "y": {"field": "mean", "type": "quantitative", "scale": {"type": "linear", "domain": [0, 20], "nice": false, "zero": false}}}},
   {"data": {"name": "annot"}, "transform": [{"filter": "datum.p === 's2'"}],
    "mark": {"type": "text", "text": "p(gt1", "fontSize": 20.8, "fontStyle": "italic", "align": "left", "baseline": "alphabetic"},
    "encoding": {
     "x": {"field": "tx", "type": "quantitative", "scale": {"type": "linear", "domain": [-0.5, 2.5], "nice": false, "zero": false}},
     "y": {"field": "ty", "type": "quantitative", "scale": {"type": "linear", "domain": [0, 20], "nice": false, "zero": false}}}},
   {"data": {"name": "annot"}, "transform": [{"filter": "datum.p === 's2'"}],
    "mark": {"type": "text", "text": "100", "fontSize": 15, "align": "left", "baseline": "alphabetic", "dx": 57, "dy": 3},
    "encoding": {
     "x": {"field": "tx", "type": "quantitative", "scale": {"type": "linear", "domain": [-0.5, 2.5], "nice": false, "zero": false}},
     "y": {"field": "ty", "type": "quantitative", "scale": {"type": "linear", "domain": [0, 20], "nice": false, "zero": false}}}},
   {"data": {"name": "annot"}, "transform": [{"filter": "datum.p === 's2'"}],
    "mark": {"type": "text", "fontSize": 20.8, "align": "left", "baseline": "alphabetic", "dx": 88.5},
    "encoding": {
     "text": {"field": "eq", "type": "nominal"},
     "x": {"field": "tx", "type": "quantitative", "scale": {"type": "linear", "domain": [-0.5, 2.5], "nice": false, "zero": false}},
     "y": {"field": "ty", "type": "quantitative", "scale": {"type": "linear", "domain": [0, 20], "nice": false, "zero": false}}}},
   {"data": {"name": "annot"}, "transform": [{"filter": "datum.p === 's2'"}],
    "mark": {"type": "rule", "color": "red", "strokeWidth": 1.8},
    "encoding": {
     "x": {"field": "ax", "type": "quantitative", "scale": {"type": "linear", "domain": [-0.5, 2.5], "nice": false, "zero": false}},
     "x2": {"field": "hx"},
     "y": {"field": "ay", "type": "quantitative", "scale": {"type": "linear", "domain": [0, 20], "nice": false, "zero": false}},
     "y2": {"field": "hy"}}},
   {"data": {"name": "annot"}, "transform": [{"filter": "datum.p === 's2'"}],
    "mark": {"type": "point", "shape": "M-0.4,-1L0,0L0.4,-1", "size": 441, "filled": false, "stroke": "red", "strokeWidth": 1.8, "opacity": 1, "angle": 198.8},
    "encoding": {
     "x": {"field": "hx", "type": "quantitative", "scale": {"type": "linear", "domain": [-0.5, 2.5], "nice": false, "zero": false}},
     "y": {"field": "hy", "type": "quantitative", "scale": {"type": "linear", "domain": [0, 20], "nice": false, "zero": false}}}}
  ]
 }
]
}
